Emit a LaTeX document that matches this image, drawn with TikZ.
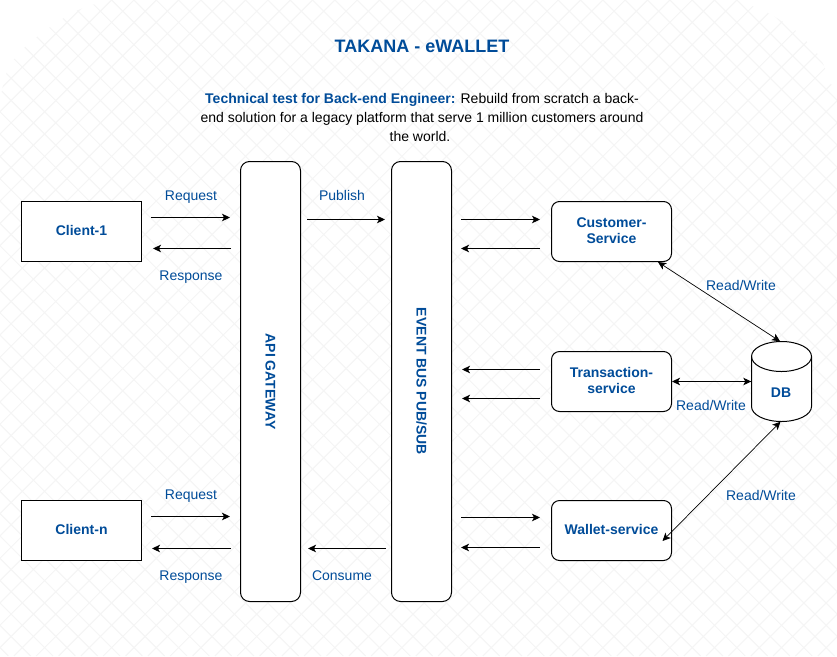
\documentclass[tikz,border=0pt]{standalone}
\usepackage{fontspec}
\setmainfont{Liberation Sans}
\usetikzlibrary{arrows.meta,calc}
\definecolor{bluetxt}{HTML}{004C99}
\definecolor{gridc}{HTML}{F5F5F5}
\tikzset{
  fontreg/.style={font=\fontsize{14}{19}\selectfont},
  fontbold/.style={font=\fontsize{14}{16}\selectfont\bfseries},
  boxbase/.style={draw=black,fill=white,line width=1pt,minimum width=120pt,minimum height=60pt,inner sep=0pt,align=center,text=bluetxt,fontbold},
  plainbox/.style={boxbase},
  roundbox/.style={boxbase,rounded corners=8pt},
  tallbox/.style={boxbase,rounded corners=9pt,minimum width=60pt,minimum height=440pt},
  lbl/.style={fontreg,text=bluetxt,inner sep=0pt},
  arr/.style={line width=1pt,-{Stealth[length=8pt,width=7.5pt,inset=2pt]}},
  dbl/.style={line width=1pt,{Stealth[length=8pt,width=7.5pt,inset=2pt]}-{Stealth[length=8pt,width=7.5pt,inset=2pt]}},
  thin dbl/.style={dbl,line width=.7pt},
  gridline/.style={draw=gridc,line width=1pt}
}
\begin{document}
\begin{tikzpicture}[x=1pt,y=-1pt]
\useasboundingbox (0,0) rectangle (837,656);
% background pattern
\begin{scope}
\clip (0,0) rectangle (837,656);
\fill[white] (0,0) rectangle (837,656);
\foreach \k in {0,...,67}{
  \pgfmathsetmacro{\c}{22.33*\k}
  \draw[gridline] (\c,0) -- (\c-656,656);
  \draw[gridline] (\c-670,0) -- (\c-14,656);
}
\fill[white] plot[smooth] coordinates {(112,-1) (78,10) (50,27) (27,45) (10,65) (3,85) (-1,108)} -- (-1,-1) -- cycle;
\fill[white] plot[smooth] coordinates {(735,-1) (768,13) (795,30) (817,53) (825,68) (838,102)} -- (838,-1) -- cycle;
\end{scope}
% title and text
\node[text=bluetxt,font=\fontsize{18}{20}\selectfont\bfseries,inner sep=0pt] (title) at (422,46) {TAKANA - eWALLET};
\node[fontreg,align=center,inner sep=0pt] (desc) at (422,117) {{\bfseries\color{bluetxt}Technical test for Back-end Engineer:} Rebuild from scratch a back-\\end solution for a legacy platform that serve 1 million customers around\\the world.\hspace*{4pt}};
% boxes
\node[plainbox] (c1) at (81.5,231.5) {Client-1\\[-13pt]\mbox{}};
\node[plainbox] (cn) at (81.5,530.5) {Client-n\\[-13pt]\mbox{}};
\node[tallbox] (api) at (270.5,381.5) {\rotatebox{-90}{API GATEWAY}};
\node[tallbox] (bus) at (421.5,381.5) {\rotatebox{-90}{EVENT BUS PUB/SUB}};
\node[roundbox] (cust) at (611.5,231.5) {Customer-\\Service\\[-15pt]\mbox{}};
\node[roundbox] (tran) at (611.5,381.5) {Transaction-\\service\\[-13pt]\mbox{}};
\node[roundbox] (wall) at (611.5,530.5) {Wallet-service\\[-13pt]\mbox{}};
% DB
\node[minimum width=60pt,minimum height=80pt,inner sep=0pt] (db) at (781.5,381.5) {};
\begin{scope}[shift={(db.center)}]
\draw[fill=white,line width=1pt] (-30,-25)
  .. controls (-30,-33.3) and (-16.6,-40) .. (0,-40)
  .. controls (16.6,-40) and (30,-33.3) .. (30,-25)
  -- (30,25)
  .. controls (30,33.3) and (16.6,40) .. (0,40)
  .. controls (-16.6,40) and (-30,33.3) .. (-30,25) -- cycle;
\draw[line width=1pt] (-30,-25)
  .. controls (-30,-16.7) and (-16.6,-10) .. (0,-10)
  .. controls (16.6,-10) and (30,-16.7) .. (30,-25);
\end{scope}
\node[text=bluetxt,fontbold,inner sep=0pt] (dbtext) at (781,393) {DB};
% free ends
\coordinate (a1) at (151,217.5); \coordinate (a2) at (230,217.5);
\coordinate (b1) at (231,248.5); \coordinate (b2) at (153,248.5);
\coordinate (p1) at (307,219.5); \coordinate (p2) at (385,219.5);
\coordinate (d1) at (151,516.5); \coordinate (d2) at (230,516.5);
\coordinate (e1) at (231,548.5); \coordinate (e2) at (152,548.5);
\coordinate (f1) at (386,548.5); \coordinate (f2) at (308,548.5);
\coordinate (g1) at (461,219.5); \coordinate (g2) at (540,219.5);
\coordinate (h1) at (540,248.5); \coordinate (h2) at (461,248.5);
\coordinate (i1) at (540,369.5); \coordinate (i2) at (462,369.5);
\coordinate (j1) at (540,398.5); \coordinate (j2) at (462,398.5);
\coordinate (k1) at (461,517.5); \coordinate (k2) at (540,517.5);
\coordinate (l1) at (540,547.5); \coordinate (l2) at (461,547.5);
\foreach \s/\t in {a1/a2,b1/b2,p1/p2,d1/d2,e1/e2,f1/f2,g1/g2,h1/h2,i1/i2,j1/j2,k1/k2,l1/l2}
  \draw[arr] (\s) -- (\t);
% DB links
\draw[thin dbl] ($(cust.south)+(46.5,0)$) -- ($(db.north)+(-1.5,0)$);
\draw[dbl] (tran.east) -- (db.west);
\draw[thin dbl] ($(wall.east)+(-9.5,10.5)$) -- ($(db.south)+(-1,0)$);
% labels
\node[lbl] (r1) at (191,197) {Request};
\node[lbl] (s1) at (191,277) {Response};
\node[lbl] (pub) at (342,195) {Publish};
\node[lbl] (r2) at (191,496) {Request};
\node[lbl] (s2) at (191,577) {Response};
\node[lbl] (con) at (342,575.5) {Consume};
\node[lbl] (rw1) at (741,285) {Read/Write};
\node[lbl] (rw2) at (711,405) {Read/Write};
\node[lbl] (rw3) at (761,495) {Read/Write};
\end{tikzpicture}
\end{document}
